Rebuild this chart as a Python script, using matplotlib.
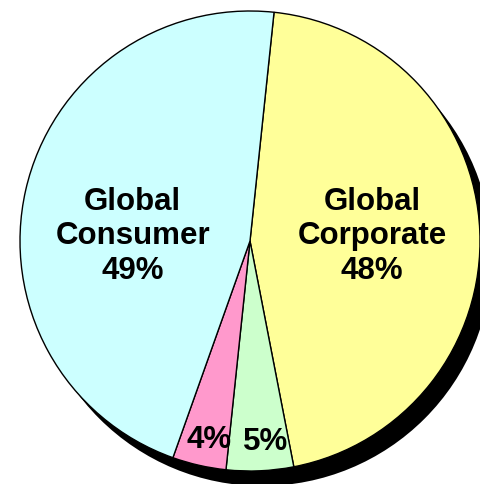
import matplotlib
matplotlib.use("Agg")
import matplotlib.pyplot as plt
from matplotlib.patches import Circle

# Share of business by segment (labels as printed on the slices)
segments = ["Global Corporate", "Other A", "Other B", "Global Consumer"]
shares = [48, 5, 4, 49]
labels = ["Global\nCorporate\n48%", "5%", "4%", "Global\nConsumer\n49%"]
colors = ["#FFFF99", "#CCFFCC", "#FF99CC", "#CCFFFF"]

W, H = 481, 484
R_PX = 230.0
CX, CY = 250.0, 241.0  # pie centre in pixels from top-left

fig = plt.figure(figsize=(W / 100, H / 100), dpi=100)
ax = fig.add_axes([0, 0, 1, 1])
ax.set_xlim(-CX / R_PX, (W - CX) / R_PX)
ax.set_ylim(-(H - CY) / R_PX, CY / R_PX)
ax.axis("off")

# drop shadow
ax.add_patch(Circle((12 / R_PX, -15 / R_PX), 1.0, facecolor="black",
                    edgecolor="none", zorder=1))

wedges, _ = ax.pie(shares, colors=colors, startangle=84, counterclock=False,
                   radius=1.0, center=(0, 0), frame=True,
                   wedgeprops=dict(edgecolor="black", linewidth=1.0, zorder=2))
for w in wedges:
    w.set_zorder(2)
ax.set_xlim(-CX / R_PX, (W - CX) / R_PX)
ax.set_ylim(-(H - CY) / R_PX, CY / R_PX)
ax.axis("off")

font = dict(family=["Liberation Sans", "DejaVu Sans"], fontweight="bold",
            fontsize=22.5, ha="center", va="center", zorder=3,
            linespacing=1.2)
label_pos = [(0.53, 0.02), (0.07, -0.875), (-0.18, -0.865), (-0.51, 0.02)]
for (x, y), text in zip(label_pos, labels):
    ax.text(x, y, text, **font)

fig.savefig("out.png", dpi=100)
